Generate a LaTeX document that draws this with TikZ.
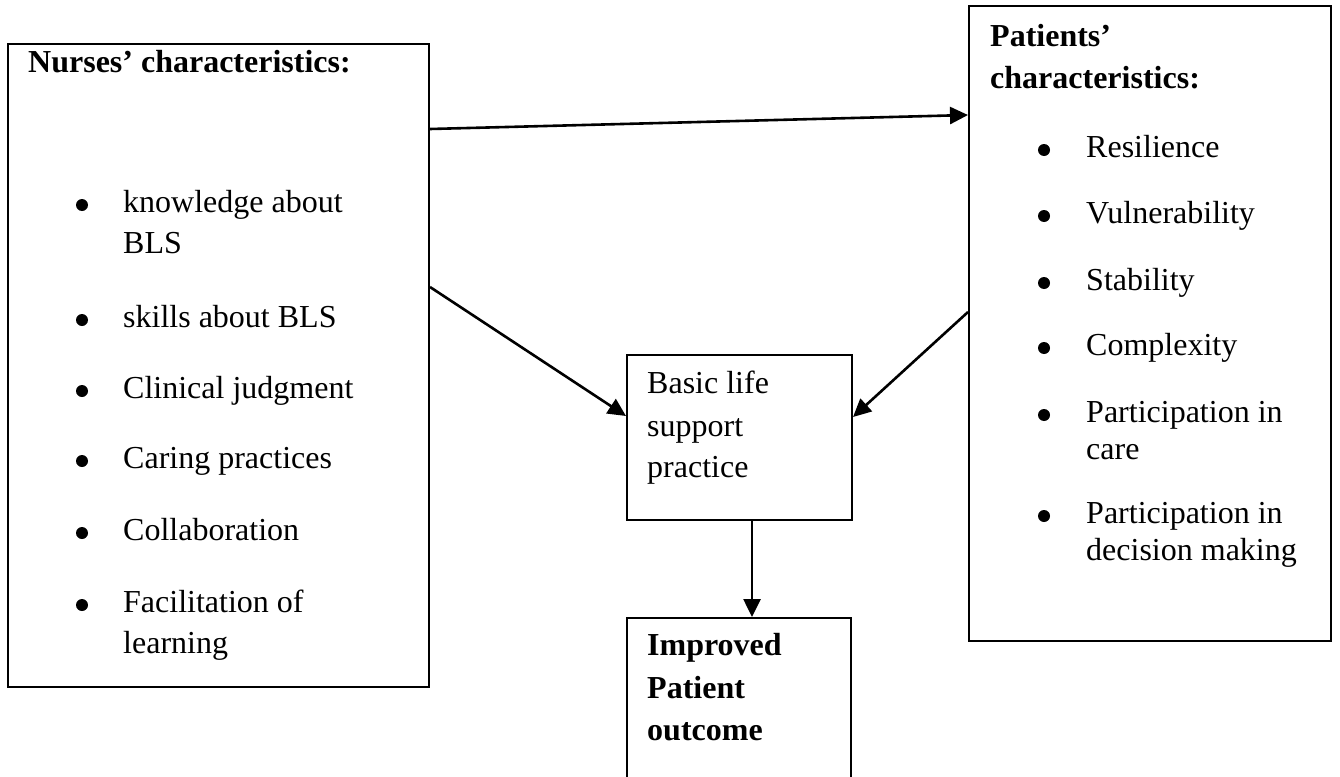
\documentclass[tikz,border=0pt]{standalone}
\usepackage{fontspec}
\setmainfont{Liberation Serif}
\usetikzlibrary{arrows.meta,calc}
\begin{document}
\begin{tikzpicture}[x=1pt,y=-1pt,
  box/.style={draw,line width=2pt,rectangle,anchor=north west,inner sep=0pt},
  txt/.style={anchor=base west,inner sep=0pt,font=\fontsize{32}{38}\selectfont},
  btxt/.style={txt,font=\fontsize{32}{38}\selectfont\bfseries},
  bul/.style={circle,fill=black,inner sep=0pt,minimum size=12pt},
  conn/.style={line width=2.6pt,-{Triangle[length=18pt,width=17pt]}}]
\useasboundingbox (0,0) rectangle (1340,776);
\fill[white] (0,0) rectangle (1340,776);
% boxes
\node[box,minimum width=421pt,minimum height=643pt] (nurses) at (7,43) {};
\node[box,minimum width=362pt,minimum height=635pt] (patients) at (968,5) {};
\node[box,minimum width=225pt,minimum height=165pt] (bls) at (626,354) {};
\node[box,minimum width=224pt,minimum height=190pt] (outcome) at (626,617) {};
% left texts
\node[btxt] (nh) at (28,73) {Nurses’ characteristics:};
\node[bul] (nb1) at (82,205) {};
\node[txt] (n1a) at (123,212) {knowledge about};
\node[txt] (n1b) at (123,253) {BLS};
\node[bul] (nb2) at (82,320) {};
\node[txt] (n2) at (123,327) {skills about BLS};
\node[bul] (nb3) at (82,391) {};
\node[txt] (n3) at (123,398) {Clinical judgment};
\node[bul] (nb4) at (82,461) {};
\node[txt] (n4) at (123,468) {Caring practices};
\node[bul] (nb5) at (82,533) {};
\node[txt] (n5) at (123,540) {Collaboration};
\node[bul] (nb6) at (82,605) {};
\node[txt] (n6a) at (123,612) {Facilitation of};
\node[txt] (n6b) at (123,653) {learning};
% right texts
\node[btxt] (ph1) at (990,47) {Patients’};
\node[btxt] (ph2) at (990,88) {characteristics:};
\node[bul] (pb1) at (1044,150) {};
\node[txt] (p1) at (1086,157) {Resilience};
\node[bul] (pb2) at (1044,216) {};
\node[txt] (p2) at (1086,223) {Vulnerability};
\node[bul] (pb3) at (1044,283) {};
\node[txt] (p3) at (1086,290) {Stability};
\node[bul] (pb4) at (1044,348) {};
\node[txt] (p4) at (1086,355) {Complexity};
\node[bul] (pb5) at (1044,415) {};
\node[txt] (p5a) at (1086,422) {Participation in};
\node[txt] (p5b) at (1086,459) {care};
\node[bul] (pb6) at (1044,516) {};
\node[txt] (p6a) at (1086,523) {Participation in};
\node[txt] (p6b) at (1086,560) {decision making};
% middle texts
\node[txt] (b1) at (647,393) {Basic life};
\node[txt] (b2) at (647,436) {support};
\node[txt] (b3) at (647,477) {practice};
\node[btxt] (o1) at (647,655) {Improved};
\node[btxt] (o2) at (647,698) {Patient};
\node[btxt] (o3) at (647,740) {outcome};
% connectors
\draw[conn] ($(nurses.north east)+(0,86)$) -- ($(patients.north west)+(0,110)$);
\draw[conn] ($(nurses.north east)+(0,244)$) -- ($(bls.north west)+(0,62)$);
\draw[conn] ($(patients.north west)+(0,307)$) -- ($(bls.north east)+(0,63)$);
\draw[conn] ($(bls.south west)+(126,0)$) -- ($(outcome.north west)+(126,0)$);
\end{tikzpicture}
\end{document}
